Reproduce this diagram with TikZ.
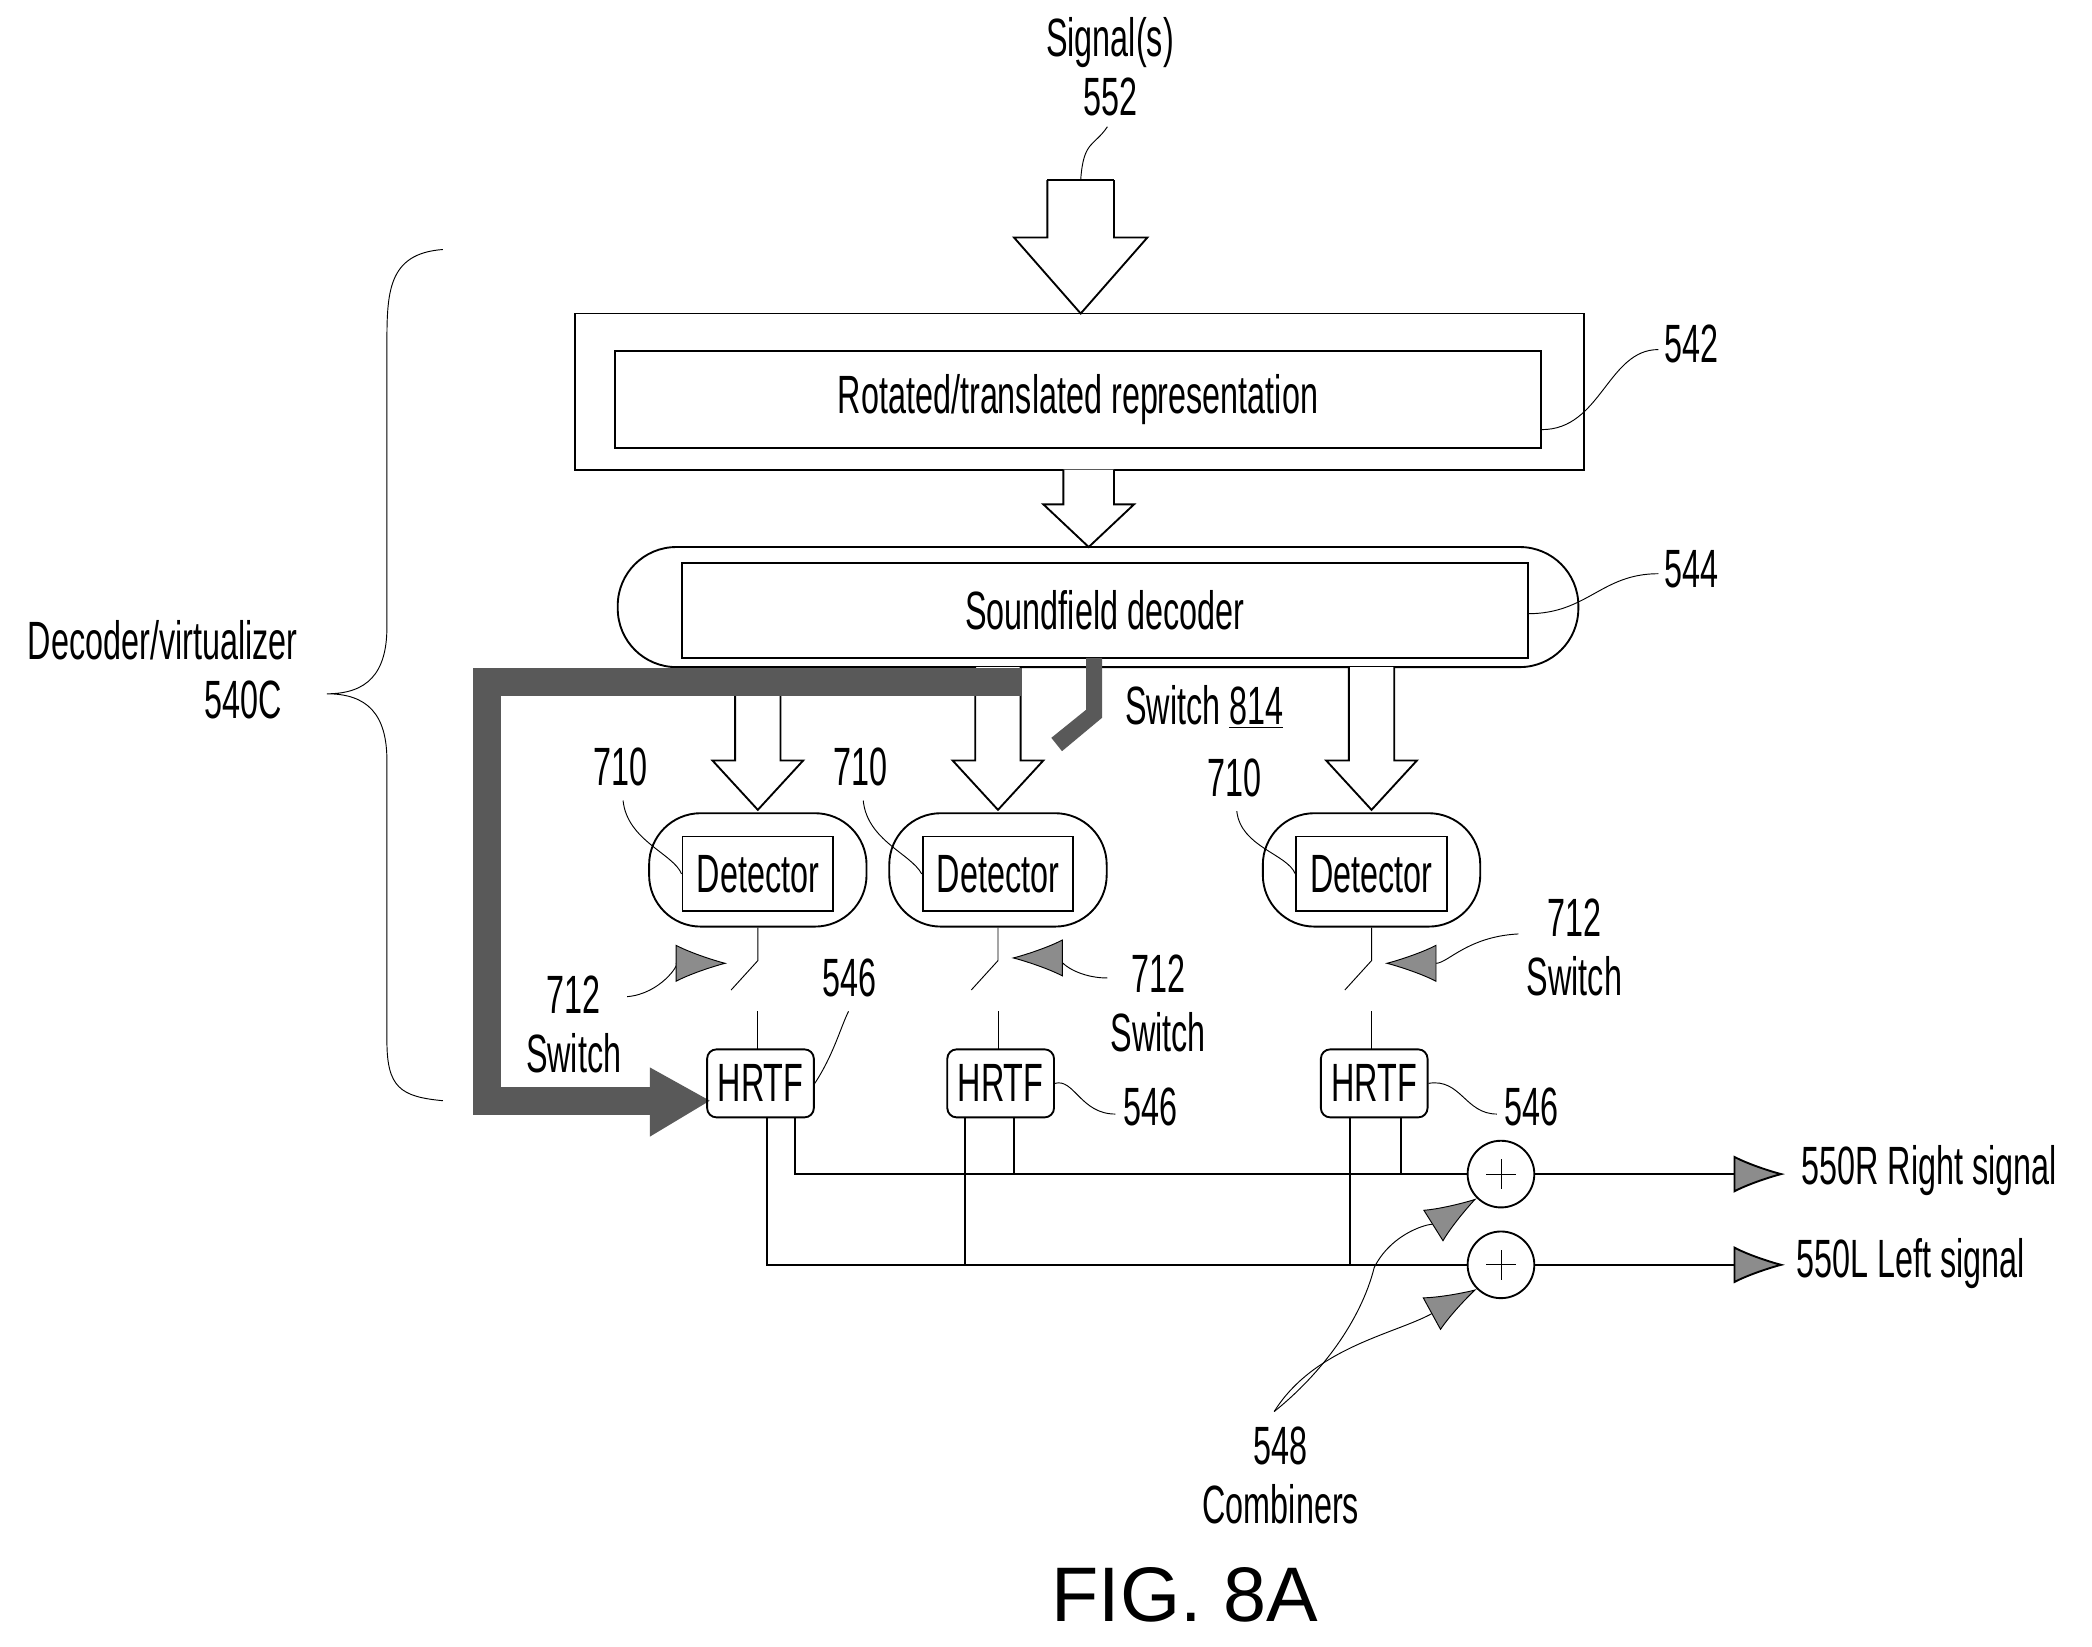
\documentclass[tikz,border=0pt]{standalone}
\usepackage{fontspec}
\setmainfont{Liberation Sans}[FakeStretch=0.6]
\newfontfamily\figfont{Liberation Sans}
\usetikzlibrary{arrows.meta}

% hollow block arrow: x, top, head base, tip, half shaft, half head
\newcommand{\blockarrow}[6]{%
  \draw[thick,fill=white] (#1-#5,#2) -- (#1-#5,#3) -- (#1-#6,#3) -- (#1,#4)
    -- (#1+#6,#3) -- (#1+#5,#3) -- (#1+#5,#2);}

\tikzset{
  lbl/.style={font=\fontsize{23}{25}\selectfont,align=center,inner sep=0pt},
  lead/.style={thin},
  pointer/.style={thin,-{Latex[length=22pt,width=16pt,fill=black!45]}},
  detbox/.style={draw,thick,rounded corners=22pt,minimum width=3.26cm,minimum height=1.7cm},
  inbox/.style={draw,thick,minimum width=2.26cm,minimum height=1.12cm,font=\fontsize{23}{25}\selectfont,inner sep=0pt},
  hrtf/.style={draw,thick,rounded corners=4pt,minimum width=1.6cm,minimum height=1.02cm,font=\fontsize{23}{25}\selectfont,inner sep=0pt},
  comb/.style={draw,thick,circle,minimum size=1cm,inner sep=0pt},
  bus/.style={thick},
}

\begin{document}
\begin{tikzpicture}[x=0.02cm,y=-0.02cm]
  \useasboundingbox (0,0) rectangle (1568,1234);
  % input
  \node[lbl] (sig) at (832,50) {Signal(s)\\552};
  \draw[lead] (830,95) .. controls (820,110) and (812,105) .. (810,135);
  \blockarrow{810}{135}{178}{235}{25}{50}
  \draw[thick] (785,135) -- (835,135);
  % rotated / translated representation
  \draw[thick] (431,235) rectangle (1187,352);
  \node[draw,thick,minimum width=13.88cm,minimum height=1.46cm,lbl] (rot) at (808,299.5)
    {Rotated/translated representation};
  \node[lbl] (l542) at (1268,258) {542};
  \draw[lead] (rot.east|-808,322) .. controls (1200,322) and (1205,262) .. (1243,262);
  \blockarrow{816}{352}{378}{410}{19}{34}
  % soundfield decoder
  \draw[thick,rounded corners=25pt] (463,410) rectangle (1183,500);
  \node[draw,thick,minimum width=12.68cm,minimum height=1.42cm,lbl] (dec) at (828,457.5)
    {Soundfield decoder};
  \node[lbl] (l544) at (1268,427) {544};
  \draw[lead] (1145,460) .. controls (1190,460) and (1200,430) .. (1243,430);
  % block arrows to detectors
  \blockarrow{568}{517}{570}{607}{17}{34}
  \blockarrow{748}{500}{570}{607}{17}{34}
  \blockarrow{1028}{500}{570}{607}{17}{34}
  % switch 814 and bypass path
  \fill[black!65] (814,493) -- (826,493) -- (826,538) -- (796,563) -- (788,553) -- (814,532) -- cycle;
  \draw[black!65,line width=12pt] (765,511) -- (365,511) -- (365,825) -- (490,825);
  \fill[black!65] (487,800) -- (532,825) -- (487,852) -- cycle;
  \node[lbl,anchor=west] (s814) at (843,530) {Switch \underline{814}};
  % detectors, switches, HRTFs
  \foreach \n/\x in {a/568,b/748,c/1028}{
    \node[detbox] (d\n) at (\x,652) {};
    \node[inbox] (i\n) at (\x,655) {Detector};
    \coordinate (k\n) at (\x,720);
    \node[hrtf] (h\n) at (\x+2,812) {HRTF};
    \draw[thin] (d\n.south) -- (k\n) -- ++(-20,22);
    \draw[thin] (\x,758) -- (\x,787);
  }
  \node[lbl] (t710a) at (465,575) {710};
  \node[lbl] (t710b) at (645,575) {710};
  \node[lbl] (t710c) at (925,583) {710};
  \draw[lead] (467,600) .. controls (470,630) and (505,640) .. (ia.west);
  \draw[lead] (647,600) .. controls (650,630) and (683,640) .. (ib.west);
  \draw[lead] (927,608) .. controls (930,635) and (965,640) .. (ic.west);
  % 712 switch labels
  \node[lbl] (t712a) at (430,768) {712\\Switch};
  \node[lbl] (t712b) at (868,752) {712\\Switch};
  \node[lbl] (t712c) at (1180,710) {712\\Switch};
  \draw[pointer] (470,747) .. controls (495,745) and (510,722) .. (545,722);
  \draw[pointer] (830,733) .. controls (805,733) and (790,718) .. (758,718);
  \draw[pointer] (1138,700) .. controls (1100,702) and (1085,722) .. (1038,722);
  % 546 labels
  \node[lbl] (t546a) at (637,733) {546};
  \node[lbl] (t546b) at (862,830) {546};
  \node[lbl] (t546c) at (1148,830) {546};
  \draw[lead] (ha.east) .. controls (625,790) and (630,770) .. (636,758);
  \draw[lead] (hb.east) .. controls (805,808) and (810,835) .. (836,835);
  \draw[lead] (hc.east) .. controls (1095,808) and (1098,835) .. (1122,835);
  % combiners
  \node[comb] (cr) at (1125,880) {};
  \node[comb] (cl) at (1125,948) {};
  \foreach \c in {cr,cl}{\draw[thin] (\c.center) +(-11,0) -- +(11,0) (\c.center) +(0,-11) -- +(0,11);}
  % buses
  \draw[bus] (ha.south-|575,0) -- (575,948) -- (cl.west);
  \draw[bus] (ha.south-|596,0) -- (596,880) -- (cr.west);
  \draw[bus] (hb.south-|723,0) -- (723,948);
  \draw[bus] (hb.south-|760,0) -- (760,880);
  \draw[bus] (hc.south-|1012,0) -- (1012,948);
  \draw[bus] (hc.south-|1050,0) -- (1050,880);
  \coordinate (outr) at (1338,880);
  \coordinate (outl) at (1338,948);
  \draw[thick,-{Latex[length=22pt,width=16pt,fill=black!45]}] (cr.east) -- (outr);
  \draw[thick,-{Latex[length=22pt,width=16pt,fill=black!45]}] (cl.east) -- (outl);
  \node[lbl,anchor=west] (rs) at (1350,877) {550R Right signal};
  \node[lbl,anchor=west] (ls) at (1346,947) {550L Left signal};
  \node[lbl] (t548) at (960,1106) {548\\Combiners};
  \draw[pointer] (955,1058) .. controls (990,1030) and (1020,990) .. (1030,950)
     .. controls (1045,920) and (1080,915) .. (cr.south west);
  \draw[pointer] (955,1058) .. controls (985,1010) and (1045,1000) .. (cl.south west);
  % brace
  \draw[thin] (332,187) .. controls (290,190) and (290,220) .. (290,260) -- (290,470)
    .. controls (290,505) and (275,520) .. (245,520)
    .. controls (275,520) and (290,535) .. (290,570) -- (290,780)
    .. controls (290,815) and (300,822) .. (332,825);
  \node[lbl] (dv) at (122,502) {Decoder/virtualizer\\\hspace*{3em}540C};
  \node[inner sep=0pt,font=\figfont\fontsize{33}{36}\selectfont] (fig) at (888,1195) {FIG. 8A};
\end{tikzpicture}
\end{document}
